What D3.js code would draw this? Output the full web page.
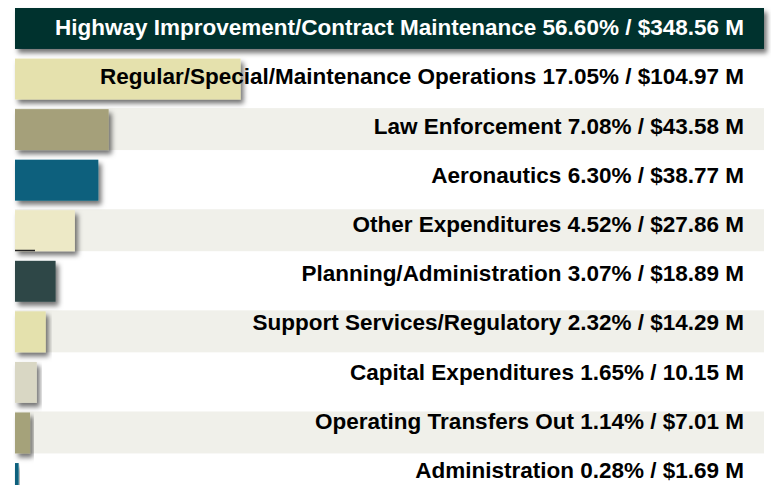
<!DOCTYPE html>
<html>
<head>
<meta charset="utf-8">
<script src="https://cdn.jsdelivr.net/npm/d3@7"></script>
<style>
  html, body { margin: 0; padding: 0; background: #ffffff; }
  svg { display: block; }
  .label { font-family: "Liberation Sans Narrow", "Liberation Sans", sans-serif; font-weight: bold; font-size: 22.5px; }
</style>
</head>
<body>
<svg id="chart"></svg>
<script>
// chart data
const categories = [
  "Highway Improvement/Contract Maintenance",
  "Regular/Special/Maintenance Operations",
  "Law Enforcement",
  "Aeronautics",
  "Other Expenditures",
  "Planning/Administration",
  "Support Services/Regulatory",
  "Capital Expenditures",
  "Operating Transfers Out",
  "Administration"
];
const percents = [56.60, 17.05, 7.08, 6.30, 4.52, 3.07, 2.32, 1.65, 1.14, 0.28];
const amounts = [348.56, 104.97, 43.58, 38.77, 27.86, 18.89, 14.29, 10.15, 7.01, 1.69];
const currencySign = ["$", "$", "$", "$", "$", "$", "$", "", "$", "$"];
const barColors = ["#03302f", "#e5e1ad", "#a5a07a", "#08607d", "#ede9c6",
                   "#2f4646", "#e4e1ad", "#d9d7c4", "#a5a27a", "#0a617d"];

const width = 771;
const height = 485;

const svg = d3.select("#chart").attr("width", width).attr("height", height);

// drop shadow for bars
const defs = svg.append("defs");
const shadow = defs.append("filter").attr("id", "shadow")
  .attr("x", "-10%").attr("y", "-30%").attr("width", "130%").attr("height", "170%");
shadow.append("feDropShadow")
  .attr("dx", 3).attr("dy", 4)
  .attr("stdDeviation", 2.4)
  .attr("flood-color", "#000")
  .attr("flood-opacity", 0.55);

const x = d3.scaleLinear().domain([0, d3.max(amounts)]).range([15, 764]);

const y = d3.scaleBand()
  .domain(d3.range(categories.length))
  .range([8, 8 + 49.6 * categories.length])
  .paddingInner(0.19)
  .paddingOuter(0);

// label centres drift slightly from bar centres
const yLabel = d3.scalePoint()
  .domain(d3.range(categories.length))
  .range([27, 470]);

// alternating background bands
svg.append("g").selectAll("rect")
  .data(d3.range(categories.length).filter(i => i % 2 === 0 && i > 0))
  .join("rect")
  .attr("x", x(0))
  .attr("y", i => y(i) - 1)
  .attr("width", x.range()[1] - x(0))
  .attr("height", y.bandwidth() + 1)
  .attr("fill", "#f0f0ea");

// bars
svg.append("g").selectAll("rect")
  .data(amounts)
  .join("rect")
  .attr("x", x(0))
  .attr("y", (d, i) => y(i))
  .attr("width", d => Math.max(2, x(d) - x(0)))
  .attr("height", y.bandwidth())
  .attr("fill", (d, i) => barColors[i])
  .attr("filter", "url(#shadow)");

// little stray rule under "Other Expenditures"
svg.append("line")
  .attr("x1", x(0)).attr("x2", x(0) + 20)
  .attr("y1", 250.5).attr("y2", 250.5)
  .attr("stroke", "#222").attr("stroke-width", 1.5);

// labels
const fmt = d3.format(".2f");
svg.append("g").selectAll("text")
  .data(categories)
  .join("text")
  .attr("class", "label")
  .attr("x", 744)
  .attr("y", (d, i) => yLabel(i))
  .attr("dy", "0.36em")
  .attr("text-anchor", "end")
  .attr("fill", (d, i) => i === 0 ? "#ffffff" : "#000000")
  .text((d, i) => `${d} ${fmt(percents[i])}% / ${currencySign[i]}${fmt(amounts[i])} M`);
</script>
</body>
</html>
